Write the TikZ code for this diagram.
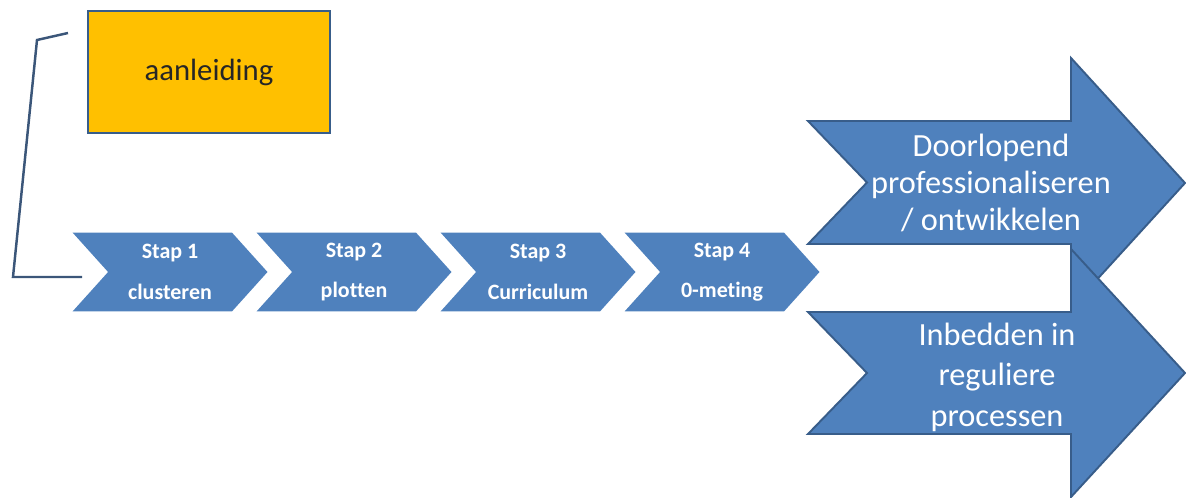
\documentclass[tikz,border=0pt]{standalone}
\usepackage{fontspec}
\setmainfont{Carlito}[Ligatures=NoCommon]
\usetikzlibrary{shapes.symbols}

\definecolor{stepblue}{HTML}{4F81BD}
\definecolor{stepedge}{HTML}{385D8A}
\definecolor{linkblue}{HTML}{3B5679}
\definecolor{aanlgold}{HTML}{FFC000}

\begin{document}
\begin{tikzpicture}[x=0.02cm,y=-0.02cm,
  stepbox/.style={signal,signal from=west,signal to=east,signal pointer angle=96,
    fill=stepblue,text=white,minimum height=1.58cm,minimum width=3.9cm,
    inner sep=0pt,align=center,font=\fontsize{12.5}{23}\selectfont\bfseries},
  bigarrow/.style={fill=stepblue,draw=stepedge,line width=1.1pt,line join=miter},
  bigtext/.style={text=white,align=center,inner sep=0pt}]

  \clip (0,0) rectangle (1186,497);

  % aanleiding box
  \node[draw=stepedge,line width=1.2pt,fill=aanlgold,minimum width=4.84cm,
    minimum height=2.44cm,text=black!85,font=\fontsize{17.5}{21}\selectfont]
    (aanl) at (209,72) {aanleiding};

  % the four steps
  \node[stepbox] (s1) at (170,272) {Stap 1\\clusteren};
  \node[stepbox] (s2) at (354,272) {Stap 2\\plotten};
  \node[stepbox] (s3) at (538,272) {Stap 3\\Curriculum};
  \node[stepbox] (s4) at (722,272) {Stap 4\\0-meting};

  % bracket from the box down to the first step
  \coordinate (brTop) at (68,33);
  \coordinate (brEnd) at (82,277);
  \draw[linkblue,line width=1.4pt] (brTop) -- (37,40) -- (13,277) -- (brEnd);

  % two outcome arrows
  \path[bigarrow] (808,121) -- (1071,121) -- (1071,58) -- (1185,183)
    -- (1071,308) -- (1071,244) -- (808,244) -- (867,182.5) -- cycle;
  \node[bigtext,font=\fontsize{18.4}{21}\selectfont] (dool) at (991,183)
    {Doorlopend\\professionaliseren\\/ ontwikkelen};

  \path[bigarrow] (808,312) -- (1071,312) -- (1071,249) -- (1185,373)
    -- (1071,497) -- (1071,434) -- (808,434) -- (867,373) -- cycle;
  \node[bigtext,font=\fontsize{18.4}{23}\selectfont] (inbed) at (997,377)
    {Inbedden in\\reguliere\\processen};

\end{tikzpicture}
\end{document}
